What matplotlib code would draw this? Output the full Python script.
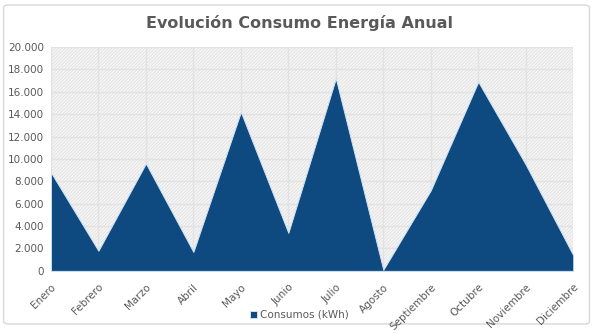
import numpy as np
import matplotlib
matplotlib.use('Agg')
import matplotlib.pyplot as plt
from matplotlib.patches import FancyBboxPatch, Rectangle

meses = ['Enero', 'Febrero', 'Marzo', 'Abril', 'Mayo', 'Junio', 'Julio',
         'Agosto', 'Septiembre', 'Octubre', 'Noviembre', 'Diciembre']
consumos = [8800, 1800, 9600, 1700, 14200, 3400, 17200, 100, 7200, 16900, 9500, 1400]
yticks = [0, 2000, 4000, 6000, 8000, 10000, 12000, 14000, 16000, 18000, 20000]

gris = '#595959'
azul = '#0e4a80'

plt.rcParams['hatch.linewidth'] = 0.3
plt.rcParams['font.family'] = ['DejaVu Sans']

fig = plt.figure(figsize=(5.99, 3.34), dpi=100)
fig.patches.append(FancyBboxPatch((0.006, 0.03), 0.978, 0.955,
                                  boxstyle='round,pad=0,rounding_size=0.008',
                                  transform=fig.transFigure, fc='white',
                                  ec='#d9d9d9', lw=1, zorder=-10))

ax = fig.add_axes([0.085, 0.189, 0.872, 0.670])
x = np.arange(len(meses))

# fondo con trama
ax.set_facecolor('#f4f4f4')
ax.add_patch(Rectangle((0, 0), 1, 1, transform=ax.transAxes, fc='none',
                       ec='#d2d2d2', hatch='//////////', lw=0, zorder=0))
ax.grid(True, color='#e2e2e2', lw=1.0, zorder=1)
ax.set_axisbelow(True)

ax.fill_between(x, consumos, 0, color=azul, ec='#cfe3f5', lw=0.7, zorder=3,
                label='Consumos (kWh)')

ax.set_xlim(0, len(meses) - 1)
ax.set_ylim(0, 20000)
ax.set_xticks(x)
ax.set_xticklabels(meses, rotation=45, ha='right', rotation_mode='anchor',
                   fontsize=7.5, color=gris)
ax.set_yticks(yticks)
ax.set_yticklabels([f'{v:,}'.replace(',', '.') for v in yticks], fontsize=7.5, color=gris)
ax.tick_params(axis='y', length=0, pad=5)
ax.tick_params(axis='x', length=0, pad=8)
for s in ax.spines.values():
    s.set_visible(False)

fig.text(0.5, 0.93, 'Evolución Consumo Energía Anual', ha='center', va='center',
         fontsize=11.5, fontweight='bold', color=gris)

fig.legend(loc='center', bbox_to_anchor=(0.5, 0.057), frameon=False, fontsize=7.5,
           handlelength=0.6, handleheight=0.6, handletextpad=0.3, labelcolor=gris)

fig.savefig('out.png', dpi=100)
